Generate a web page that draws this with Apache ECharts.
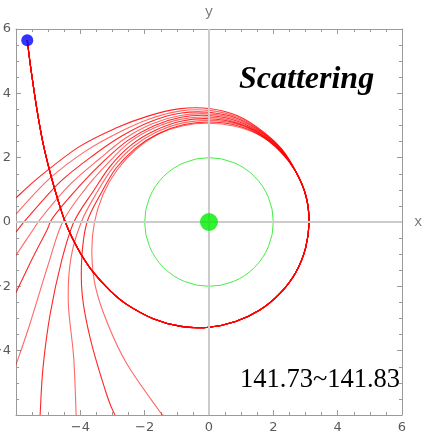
<!DOCTYPE html>
<html>
<head>
<meta charset="utf-8">
<script src="https://cdn.jsdelivr.net/npm/echarts@6/dist/echarts.min.js"></script>
<style>html,body{margin:0;padding:0;background:#fff}#c{width:427px;height:433px}</style>
</head>
<body>
<div id="c"></div>
<script>
// ---- data ----
const xTickLabels = [-4, -2, 0, 2, 4, 6];
const yTickLabels = [6, 4, 2, 0, -2, -4];
const titleText = 'Scattering';
const rangeText = '141.73~141.83';
const source = [-5.65, 5.65];      // blue start point
const centerMass = [0, 0];         // green dot
const horizonRadius = 2;           // green circle

// common incoming path (blue dot -> around the bottom -> right side -> upper right)
const incoming = [
  [-5.65, 5.65], [-5.57, 5.0], [-5.5, 4.5], [-5.35, 3.5], [-5.17, 2.5], [-4.93, 1.5],
  [-4.64, 0.5], [-4.47, 0], [-4.25, -0.5], [-3.98, -1.0], [-3.6, -1.56], [-3.06, -2.15],
  [-2.56, -2.56], [-1.735, -3.005], [-0.87, -3.246], [0, -3.27], [0.828, -3.091],
  [1.58, -2.737], [2.213, -2.213], [2.702, -1.56], [3.004, -0.805], [3.11, 0],
  [3.014, 0.808], [2.702, 1.56]
];

// outgoing branches, outermost first
const out0 = [[2.263,2.263],[1.64,2.841],[0.885,3.304],[0,3.53],[-0.942,3.516],[-1.9,3.291],[-2.913,2.913],[-4.044,2.335],[-5.264,1.41],[-6,0.75]];
const out1 = [[2.256,2.256],[1.63,2.823],[0.875,3.265],[0,3.47],[-0.924,3.448],[-1.85,3.204],[-2.793,2.793],[-3.828,2.21],[-4.975,1.333],[-6,0.25]];
const out2 = [[2.249,2.249],[1.62,2.806],[0.864,3.226],[0,3.41],[-0.906,3.381],[-1.805,3.126],[-2.687,2.687],[-3.594,2.075],[-4.636,1.242],[-5.618,0.157],[-6,-0.31]];
const out3 = [[2.242,2.242],[1.61,2.789],[0.854,3.188],[0,3.36],[-0.888,3.313],[-1.765,3.057],[-2.602,2.602],[-3.403,1.965],[-4.327,1.159],[-5.187,0.163],[-5.474,-0.248],[-6,-1.03]];
const out4 = [[2.234,2.234],[1.6,2.771],[0.844,3.149],[0,3.31],[-0.872,3.255],[-1.725,2.988],[-2.531,2.531],[-3.274,1.89],[-4.057,1.087],[-4.837,0.16],[-5.034,-0.246],[-5.472,-1.093],[-6,-2.19]];
const out5 = [[2.227,2.227],[1.59,2.754],[0.833,3.11],[0,3.26],[-0.857,3.197],[-1.69,2.927],[-2.475,2.475],[-3.152,1.82],[-3.844,1.03],[-4.55,0],[-5.004,-1.341],[-5.586,-3.225],[-6,-4.44]];
const out6 = [[2.22,2.22],[1.585,2.745],[0.826,3.081],[0,3.21],[-0.841,3.139],[-1.65,2.858],[-2.404,2.404],[-3.048,1.76],[-3.593,0.963],[-4.2,0],[-4.588,-1.229],[-4.936,-2.85],[-5.161,-4.534],[-5.25,-6]];
const out7 = [[2.213,2.213],[1.575,2.728],[0.818,3.052],[0,3.16],[-0.826,3.081],[-1.62,2.806],[-2.348,2.348],[-2.97,1.715],[-3.477,0.932],[-3.97,0],[-4.298,-1.152],[-4.373,-2.525],[-4.207,-4.207],[-4.13,-6]];
const out8 = [[2.206,2.206],[1.565,2.711],[0.808,3.014],[0,3.11],[-0.81,3.023],[-1.585,2.745],[-2.291,2.291],[-2.892,1.67],[-3.352,0.898],[-3.79,0],[-3.951,-1.059],[-3.94,-2.275],[-3.677,-3.677],[-3.15,-5.456],[-2.92,-6]];
const out9 = [[2.206,2.206],[1.56,2.702],[0.797,2.975],[0,3.07],[-0.802,2.994],[-1.575,2.728],[-2.263,2.263],[-2.841,1.64],[-3.284,0.88],[-3.56,0],[-3.642,-0.976],[-3.525,-2.035],[-3.154,-3.154],[-2.55,-4.417],[-1.566,-5.844],[-1.42,-6]];
const outgoing = [out0, out1, out2, out3, out4, out5, out6, out7, out8, out9];

// ---- chart ----
const chart = echarts.init(document.getElementById('c'), null, {renderer: 'canvas'});
const frameColor = '#9a9a9a';
const labelStyle = {color: '#5a5a5a', fontSize: 13, fontFamily: 'DejaVu Sans'};
const fmtMinus = v => (v < 0 ? '\u2212' + Math.abs(v) : String(v));

function frameAxis(extra) {
  return Object.assign({
    type: 'value', min: -6, max: 6, interval: 2,
    axisLine: {show: true, onZero: false, lineStyle: {color: frameColor, width: 1}},
    axisTick: {show: true, inside: true, length: 5, lineStyle: {color: frameColor}},
    minorTick: {show: true, splitNumber: 4, length: 3, lineStyle: {color: frameColor}},
    splitLine: {show: false},
    minorSplitLine: {show: false}
  }, extra);
}

// smooth path through the data points (projected with the axes via api.coord)
function splinePath(pts) {
  let d = 'M' + pts[0][0].toFixed(2) + ' ' + pts[0][1].toFixed(2);
  for (let i = 0; i < pts.length - 1; i++) {
    const p0 = pts[i - 1] || pts[i], p1 = pts[i], p2 = pts[i + 1], p3 = pts[i + 2] || pts[i + 1];
    const c1 = [p1[0] + (p2[0] - p0[0]) / 6, p1[1] + (p2[1] - p0[1]) / 6];
    const c2 = [p2[0] - (p3[0] - p1[0]) / 6, p2[1] - (p3[1] - p1[1]) / 6];
    d += ' C' + c1[0].toFixed(2) + ' ' + c1[1].toFixed(2) + ' ' + c2[0].toFixed(2) + ' ' +
      c2[1].toFixed(2) + ' ' + p2[0].toFixed(2) + ' ' + p2[1].toFixed(2);
  }
  return d;
}

const curveSeries = outgoing.map((o, i) => {
  const pts = incoming.concat(o);
  return {
    type: 'custom',
    xAxisIndex: 0, yAxisIndex: 0,
    data: pts,
    silent: true,
    clip: true,
    z: 3,
    renderItem: function (params, api) {
      if (params.dataIndex !== 0) return null;
      const px = pts.map(p => api.coord(p));
      return {
        type: 'path',
        shape: {pathData: splinePath(px)},
        style: {fill: 'none', stroke: '#ff0000', lineWidth: 1.1,
          opacity: (i % 2 === 0) ? 0.85 : 0.6}
      };
    }
  };
});

const option = {
  animation: false,
  backgroundColor: '#ffffff',
  grid: {left: 16, right: 25, top: 29, bottom: 18, containLabel: false, outerBoundsMode: 'none'},
  xAxis: [
    frameAxis({position: 'bottom',
      axisLabel: {show: true, margin: 6, ...labelStyle,
        formatter: v => xTickLabels.includes(v) ? fmtMinus(v) : ''}}),
    frameAxis({position: 'top', axisLabel: {show: false}})
  ],
  yAxis: [
    frameAxis({position: 'left',
      axisLabel: {show: true, margin: 5, ...labelStyle,
        formatter: v => yTickLabels.includes(v) ? fmtMinus(v) : ''}}),
    frameAxis({position: 'right', axisLabel: {show: false}})
  ],
  series: [
    {
      type: 'line', data: [], silent: true,
      markLine: {
        silent: true, symbol: 'none', animation: false,
        lineStyle: {color: '#cccccc', width: 2, type: 'solid'},
        label: {show: true, position: 'end', color: '#777777', fontSize: 14,
          fontFamily: 'Liberation Mono',
          formatter: p => (p.data.xAxis !== undefined ? 'y' : 'x')},
        data: [{xAxis: 0, label: {distance: 10}}, {yAxis: 0, label: {distance: 12}}]
      },
      z: 1
    },
    ...curveSeries,
    {
      type: 'custom', silent: true, z: 4,
      data: [[centerMass[0], centerMass[1], horizonRadius]],
      renderItem: function (params, api) {
        const c = api.coord([api.value(0), api.value(1)]);
        const s = api.size([api.value(2), api.value(2)]);
        return {type: 'circle', shape: {cx: c[0], cy: c[1], r: s[0]},
          style: {fill: 'none', stroke: '#44ee44', lineWidth: 1}};
      }
    },
    {
      type: 'scatter', silent: true, z: 5,
      data: [centerMass], symbolSize: 18,
      itemStyle: {color: '#00ee00'}
    },
    {
      type: 'scatter', silent: true, z: 5,
      data: [source], symbolSize: 12,
      itemStyle: {color: '#0000ff'}
    }
  ],
  graphic: [
    {type: 'text', left: 239, top: 64,
      style: {text: titleText, font: 'italic bold 32px "Liberation Serif"', fill: '#000'}},
    {type: 'text', left: 240, top: 367,
      style: {text: rangeText, font: '26.5px "Liberation Serif"', fill: '#000'}}
  ]
};
chart.setOption(option);
</script>
</body>
</html>
